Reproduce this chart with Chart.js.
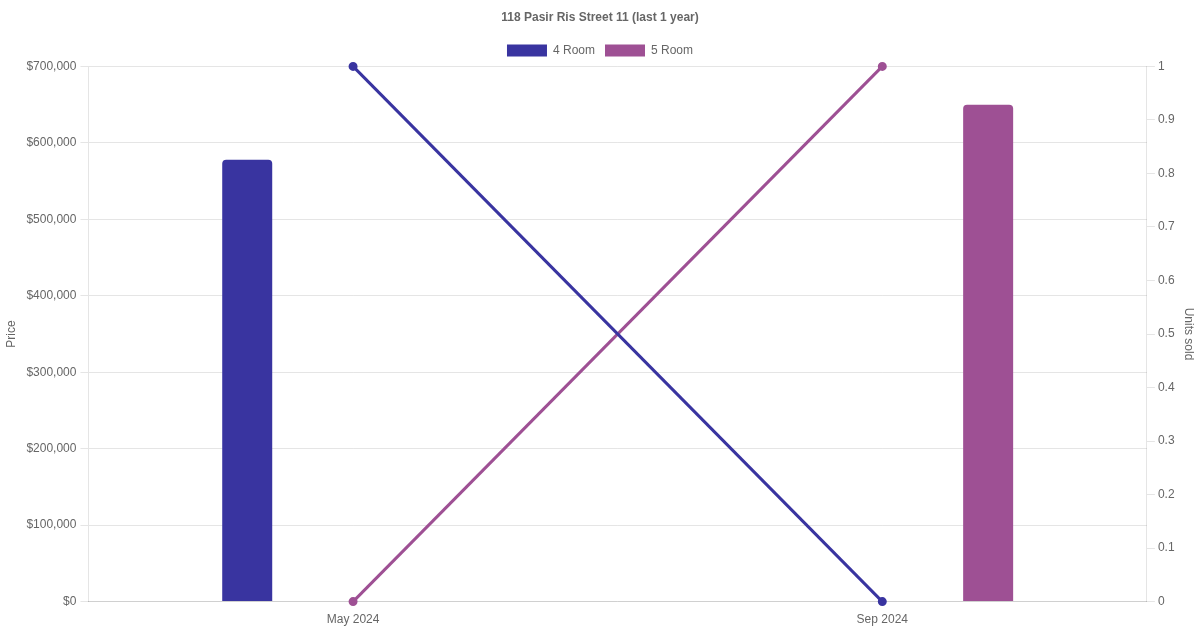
<!DOCTYPE html>
<html>
<head>
<meta charset="utf-8">
<script src="https://cdn.jsdelivr.net/npm/chart.js@4"></script>
<style>
    body { margin: 0; background: #fff; }
    #wrap { width: 1200px; height: 630px; }
</style>
</head>
<body>
<div id="wrap"><canvas id="barChart"></canvas></div>
<script>
const months = ['May 2024', 'Sep 2024'];
const seriesNames = ['4 Room', '5 Room'];
const priceValues = {
    '4 Room': [578000, null],
    '5 Room': [null, 650000]
};
const unitsSold = {
    '4 Room': [1, 0],
    '5 Room': [0, 1]
};
const seriesColors = ['rgb(57,52,160)', 'rgb(158,80,148)'];

Chart.defaults.font.family = "'Liberation Sans', Arial, sans-serif";
Chart.defaults.font.size = 12;
Chart.defaults.color = '#666';

const datasets = [];
for (let i = 0; i < seriesNames.length; i++) {
    const name = seriesNames[i];
    datasets.push({
        type: 'bar',
        label: name,
        data: priceValues[name],
        backgroundColor: seriesColors[i],
        borderColor: seriesColors[i],
        borderRadius: 4,
        maxBarThickness: 50,
        yAxisID: 'y',
        order: 2
    });
}
for (let i = 0; i < seriesNames.length; i++) {
    const name = seriesNames[i];
    datasets.push({
        type: 'line',
        label: name + ' units',
        data: unitsSold[name],
        borderColor: seriesColors[i],
        backgroundColor: seriesColors[i],
        borderWidth: 3,
        pointRadius: 3,
        fill: false,
        clip: false,
        yAxisID: 'y1',
        order: 1
    });
}

new Chart(document.getElementById('barChart'), {
    data: { labels: months, datasets: datasets },
    options: {
        responsive: true,
        maintainAspectRatio: false,
        animation: false,
        plugins: {
            title: {
                display: true,
                text: '118 Pasir Ris Street 11 (last 1 year)',
                font: { weight: 'bold', size: 12 },
                padding: { top: 10, bottom: 10 }
            },
            legend: {
                position: 'top',
                labels: {
                    filter: item => !item.text.endsWith(' units')
                }
            },
            tooltip: { enabled: false }
        },
        scales: {
            x: {
                grid: { display: false },
                border: { color: '#d0d0d0' }
            },
            y: {
                position: 'left',
                min: 0,
                max: 700000,
                title: { display: true, text: 'Price' },
                ticks: {
                    stepSize: 100000,
                    padding: 4,
                    callback: v => '$' + v.toLocaleString('en-US')
                }
            },
            y1: {
                position: 'right',
                min: 0,
                max: 1,
                title: { display: true, text: 'Units sold' },
                grid: { drawOnChartArea: false },
                ticks: {
                    stepSize: 0.1,
                    callback: v => String(Math.round(v * 10) / 10)
                }
            }
        }
    }
});
</script>
</body>
</html>
